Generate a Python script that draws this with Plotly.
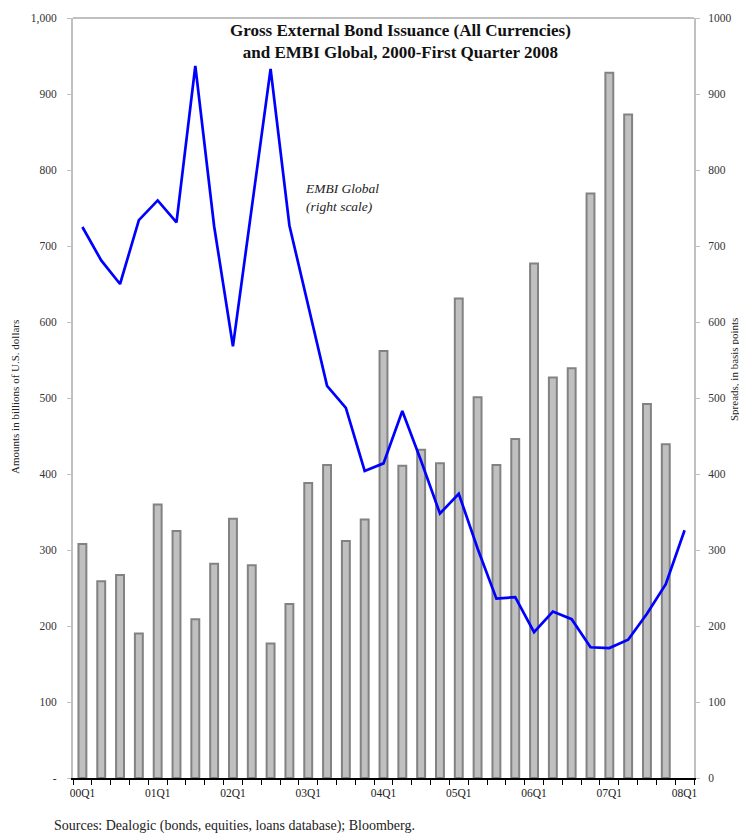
import plotly.graph_objects as go

quarters = ["00Q1","00Q2","00Q3","00Q4","01Q1","01Q2","01Q3","01Q4",
            "02Q1","02Q2","02Q3","02Q4","03Q1","03Q2","03Q3","03Q4",
            "04Q1","04Q2","04Q3","04Q4","05Q1","05Q2","05Q3","05Q4",
            "06Q1","06Q2","06Q3","06Q4","07Q1","07Q2","07Q3","07Q4","08Q1"]

# Gross external bond issuance, billions of US$ (no data for 08Q1)
issuance = [308, 259, 267, 190, 360, 325, 209, 282,
            341, 280, 177, 229, 388, 412, 312, 340,
            562, 411, 432, 414, 631, 501, 412, 446,
            677, 527, 539, 769, 928, 873, 492, 439, None]

# EMBI Global spreads, basis points
embi = [725, 681, 650, 734, 760, 731, 937, 726,
        568, 752, 933, 727, 620, 516, 487, 404,
        414, 483, 417, 348, 374, 302, 236, 238,
        192, 219, 209, 172, 171, 182, 216, 255, 326]

year_ticks = [q for q in quarters if q.endswith("Q1")]
left_vals = [0, 100, 200, 300, 400, 500, 600, 700, 800, 900, 1000]
left_text = ["-", "100", "200", "300", "400", "500", "600", "700", "800", "900", "1,000"]
right_vals = left_vals
right_text = [str(v) for v in right_vals]

xpos = list(range(len(quarters)))
tickpos = [quarters.index(q) for q in year_ticks]

SERIF = "Liberation Serif, Times New Roman, serif"
GRAY = "#c0c0c0"

# page body has an 8px margin; plot area in window pixels: x 73..694, y 18..778
PX0, PX1, PY0, PY1 = 73, 694, 18, 778
def px(x):
    return (x - PX0) / (PX1 - PX0)
def py(y):
    return (PY1 - y) / (PY1 - PY0)

fig = go.Figure()
fig.add_trace(go.Bar(
    x=xpos, y=issuance, width=0.42,
    marker=dict(color="#c0c0c0", line=dict(color="#828282", width=2)),
    yaxis="y", showlegend=False))
fig.add_trace(go.Scatter(
    x=xpos, y=embi, mode="lines",
    line=dict(color="#0000ff", width=2.7),
    yaxis="y2", showlegend=False))

fig.update_layout(
    width=739, height=826,
    margin=dict(l=65, r=53, t=10, b=56, autoexpand=False),
    paper_bgcolor="white", plot_bgcolor="white",
    font=dict(family=SERIF, size=11, color="#222222"),
    xaxis=dict(
        range=[-0.5, len(quarters) - 0.5], automargin=False,
        tickmode="array", tickvals=tickpos, ticktext=year_ticks,
        ticks="", showgrid=False, zeroline=False,
        showline=True, linecolor="black", linewidth=1.5,
        tickfont=dict(family=SERIF, size=11.5, color="#222222"),
        ticklabelstandoff=3,
        minor=dict(tick0=-0.5, dtick=1, ticks="outside", ticklen=5,
                   tickcolor="black", tickwidth=1.2, showgrid=False),
    ),
    yaxis=dict(
        range=[0, 1000], automargin=False,
        tickmode="array", tickvals=left_vals, ticktext=left_text,
        ticks="outside", ticklen=4, tickcolor=GRAY, tickwidth=1,
        showgrid=False, zeroline=False,
        showline=True, linecolor=GRAY, linewidth=2,
        tickfont=dict(family=SERIF, size=11.5, color="#333333"),
        ticklabelstandoff=8,
    ),
    yaxis2=dict(
        range=[0, 1000], overlaying="y", side="right", automargin=False,
        tickmode="array", tickvals=right_vals, ticktext=right_text,
        ticks="outside", ticklen=4, tickcolor=GRAY, tickwidth=1,
        showgrid=False, zeroline=False,
        showline=True, linecolor=GRAY, linewidth=2,
        tickfont=dict(family=SERIF, size=11.5, color="#333333"),
        ticklabelstandoff=6,
    ),
    shapes=[dict(type="line", xref="paper", yref="paper", x0=0, x1=1, y0=1, y1=1,
                 line=dict(color=GRAY, width=2))],
    annotations=[
        dict(text="<b>Gross External Bond Issuance (All Currencies)<br>and EMBI Global, 2000-First Quarter 2008</b>",
             xref="paper", yref="paper", x=px(400), y=py(42), xanchor="center", yanchor="middle",
             showarrow=False, align="center",
             font=dict(family=SERIF, size=17, color="#111111")),
        dict(text="<i>EMBI Global<br>(right scale)</i>",
             xref="paper", yref="paper", x=px(303), y=py(198),
             xanchor="left", yanchor="middle", showarrow=False, align="left",
             font=dict(family=SERIF, size=13.5, color="#222222")),
        dict(text="Amounts in billions of U.S. dollars", textangle=-90,
             xref="paper", yref="paper", x=px(15), y=py(397),
             xanchor="center", yanchor="middle", showarrow=False,
             font=dict(family=SERIF, size=11, color="#222222")),
        dict(text="Spreads, in basis points", textangle=-90,
             xref="paper", yref="paper", x=px(734), y=py(370),
             xanchor="center", yanchor="middle", showarrow=False,
             font=dict(family=SERIF, size=11, color="#222222")),
        dict(text="Sources: Dealogic (bonds, equities, loans database); Bloomberg.",
             xref="paper", yref="paper", x=px(52), y=py(826),
             xanchor="left", yanchor="middle", showarrow=False, align="left",
             font=dict(family=SERIF, size=14, color="#222222")),
    ],
)

fig.write_html("out.html")
